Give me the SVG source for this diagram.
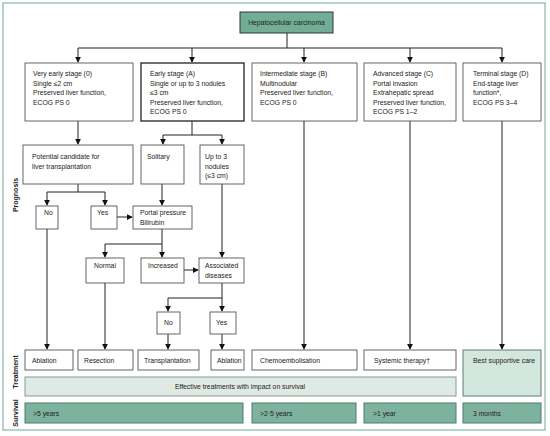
<svg xmlns="http://www.w3.org/2000/svg" width="550" height="436" viewBox="0 0 550 436">
<defs>
<marker id="ah" viewBox="0 0 8 8" refX="7" refY="4" markerWidth="6" markerHeight="6" orient="auto" markerUnits="userSpaceOnUse">
<path d="M0,0 L8,4 L0,8 z" fill="#111"/>
</marker>
<style>
text{font-family:"Liberation Sans",Arial,sans-serif;font-size:6.8px;fill:#222}
.box{fill:#fff;stroke:#555;stroke-width:0.9}
.boxb{fill:#fff;stroke:#222;stroke-width:1.3}
.ln{fill:none;stroke:#222;stroke-width:1}
.lna{fill:none;stroke:#222;stroke-width:1;marker-end:url(#ah)}
.surv{fill:#7db39e;stroke:#4e7d6c;stroke-width:1}
.eff{fill:#dfeae5;stroke:#8a9a93;stroke-width:1}
.bsc{fill:#d4e7de;stroke:#5d7d70;stroke-width:1}
.side{font-weight:bold;font-size:7px}
</style>
</defs>
<rect x="3" y="3" width="542" height="427" fill="#fff" stroke="#6aa895" stroke-width="1"/>

<g id="connectors">
<path class="ln" d="M287,33 V48 M78,48 H502"/>
<path class="lna" d="M78,48 V62"/>
<path class="lna" d="M192,48 V62"/>
<path class="lna" d="M304,48 V62"/>
<path class="lna" d="M410,48 V62"/>
<path class="lna" d="M502,48 V62"/>
<path class="lna" d="M78,121 V144"/>
<path class="ln" d="M192,121 V135 M163,135 H222"/>
<path class="lna" d="M163,135 V144"/>
<path class="lna" d="M222,135 V144"/>
<path class="ln" d="M78,184 V192 M47,192 H105"/>
<path class="lna" d="M47,192 V205"/>
<path class="lna" d="M105,192 V205"/>
<path class="lna" d="M117,217 H132"/>
<path class="lna" d="M162,184 V205"/>
<path class="ln" d="M162,229 V244 M105,244 H162"/>
<path class="lna" d="M105,244 V257"/>
<path class="lna" d="M162,244 V257"/>
<path class="lna" d="M184,270 H198"/>
<path class="lna" d="M222,184 V257"/>
<path class="ln" d="M222,283 V298 M168,298 H222"/>
<path class="lna" d="M168,298 V311"/>
<path class="lna" d="M222,298 V311"/>
<path class="lna" d="M47,229 V349"/>
<path class="lna" d="M105,283 V349"/>
<path class="lna" d="M168,334 V349"/>
<path class="lna" d="M222,334 V349"/>
<path class="lna" d="M304,121 V349"/>
<path class="lna" d="M410,121 V349"/>
<path class="lna" d="M502,121 V349"/>
</g>

<g id="title">
<rect x="240" y="12" width="93" height="21" fill="#72ae97" stroke="#333" stroke-width="1"/>
<text x="286.5" y="25" text-anchor="middle">Hepatocellular carcinoma</text>
</g>

<g id="stage0">
<rect class="box" x="25" y="63" width="108" height="58"/>
<text x="33" y="76">Very early stage (0)</text>
<text x="33" y="85.5">Single ≤2 cm</text>
<text x="33" y="95">Preserved liver function,</text>
<text x="33" y="104.5">ECOG PS 0</text>
</g>
<g id="stageA">
<rect class="boxb" x="141" y="63" width="103" height="58"/>
<text x="150" y="76">Early stage (A)</text>
<text x="150" y="85.5">Single or up to 3 nodules</text>
<text x="150" y="95">≤3 cm</text>
<text x="150" y="104.5">Preserved liver function,</text>
<text x="150" y="114">ECOG PS 0</text>
</g>
<g id="stageB">
<rect class="box" x="252" y="63" width="105" height="58"/>
<text x="260" y="76">Intermediate stage (B)</text>
<text x="260" y="85.5">Multinodular</text>
<text x="260" y="95">Preserved liver function,</text>
<text x="260" y="104.5">ECOG PS 0</text>
</g>
<g id="stageC">
<rect class="box" x="364" y="63" width="92" height="58"/>
<text x="373" y="76">Advanced stage (C)</text>
<text x="373" y="85.5">Portal invasion</text>
<text x="373" y="95">Extrahepatic spread</text>
<text x="373" y="104.5">Preserved liver function,</text>
<text x="373" y="114">ECOG PS 1–2</text>
</g>
<g id="stageD">
<rect class="box" x="463" y="63" width="78" height="58"/>
<text x="473" y="76">Terminal stage (D)</text>
<text x="473" y="85.5">End-stage liver</text>
<text x="473" y="95">function*,</text>
<text x="473" y="104.5">ECOG PS 3–4</text>
</g>

<g id="candidate">
<rect class="box" x="23" y="145" width="110" height="39"/>
<text x="32" y="159">Potential candidate for</text>
<text x="32" y="168.5">liver transplantation</text>
</g>
<g id="solitary">
<rect class="box" x="141" y="145" width="43" height="39"/>
<text x="147" y="159">Solitary</text>
</g>
<g id="upto3">
<rect class="box" x="200" y="145" width="44" height="39"/>
<text x="205" y="159">Up to 3</text>
<text x="205" y="168.5">nodules</text>
<text x="205" y="178">(≤3 cm)</text>
</g>
<g id="no1">
<rect class="box" x="36" y="206" width="22" height="23"/>
<text x="44" y="215">No</text>
</g>
<g id="yes1">
<rect class="box" x="91" y="206" width="26" height="23"/>
<text x="97" y="215">Yes</text>
</g>
<g id="portal">
<rect class="box" x="133" y="206" width="59" height="23"/>
<text x="140" y="215">Portal pressure</text>
<text x="140" y="224.5">Bilirubin</text>
</g>
<g id="normal">
<rect class="box" x="86" y="258" width="38" height="25"/>
<text x="94" y="268">Normal</text>
</g>
<g id="increased">
<rect class="box" x="141" y="258" width="43" height="25"/>
<text x="148" y="268">Increased</text>
</g>
<g id="associated">
<rect class="box" x="199" y="258" width="45" height="25"/>
<text x="205" y="268">Associated</text>
<text x="205" y="277.5">diseases</text>
</g>
<g id="no2">
<rect class="box" x="157" y="312" width="23" height="22"/>
<text x="164" y="325">No</text>
</g>
<g id="yes2">
<rect class="box" x="210" y="312" width="26" height="22"/>
<text x="216" y="325">Yes</text>
</g>

<g id="treatments">
<rect class="box" x="25" y="350" width="48" height="20"/>
<text x="32" y="362.5">Ablation</text>
<rect class="box" x="78" y="350" width="55" height="20"/>
<text x="84" y="362.5">Resection</text>
<rect class="box" x="138" y="350" width="61" height="20"/>
<text x="144" y="362.5">Transplantation</text>
<rect class="box" x="211" y="350" width="33" height="20"/>
<text x="217" y="362.5">Ablation</text>
<rect class="box" x="252" y="350" width="105" height="20"/>
<text x="260" y="362.5">Chemoembolisation</text>
<rect class="box" x="364" y="350" width="92" height="20"/>
<text x="374" y="362.5">Systemic therapy†</text>
<rect class="bsc" x="463" y="350" width="78" height="46"/>
<text x="473" y="363">Best supportive care</text>
</g>

<g id="effective">
<rect class="eff" x="25" y="377" width="431" height="19"/>
<text x="240" y="389" text-anchor="middle">Effective treatments with impact on survival</text>
</g>

<g id="survival">
<rect class="surv" x="25" y="403" width="218" height="20"/>
<text x="33" y="415.5">&gt;5 years</text>
<rect class="surv" x="252" y="403" width="104" height="20"/>
<text x="260" y="415.5">&gt;2·5 years</text>
<rect class="surv" x="364" y="403" width="92" height="20"/>
<text x="373" y="415.5">&gt;1 year</text>
<rect class="surv" x="463" y="403" width="78" height="20"/>
<text x="473" y="415.5">3 months</text>
</g>

<g id="labels">
<text class="side" transform="translate(18,195) rotate(-90)" text-anchor="middle">Prognosis</text>
<text class="side" transform="translate(18,372) rotate(-90)" text-anchor="middle">Treatment</text>
<text class="side" transform="translate(18,413) rotate(-90)" text-anchor="middle">Survival</text>
</g>
</svg>
